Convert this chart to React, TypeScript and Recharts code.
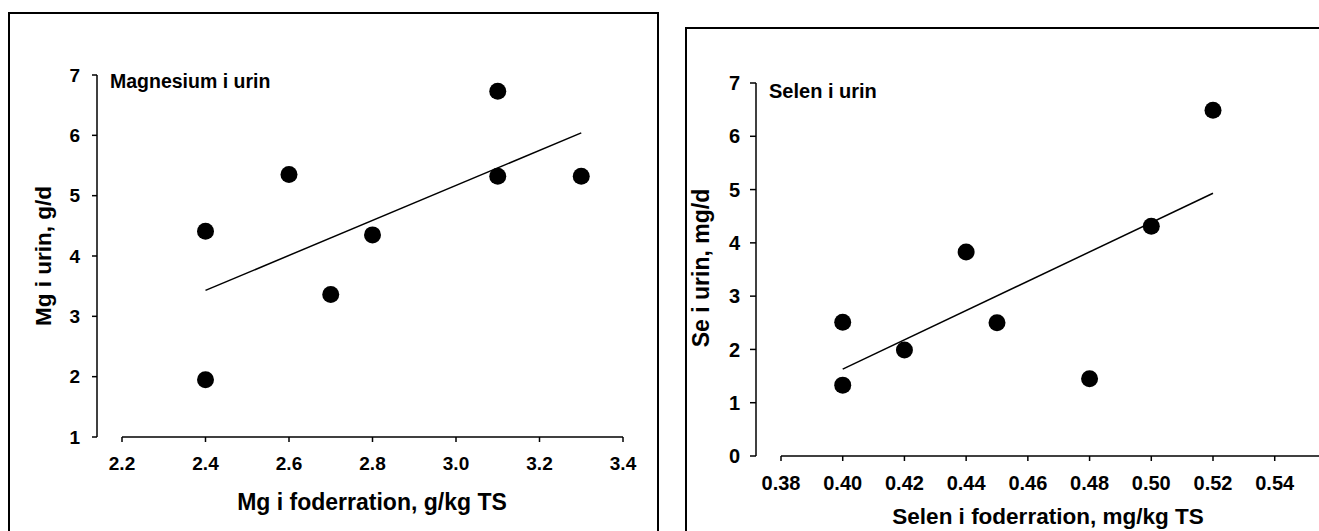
import React from 'react';
import { ScatterChart, Scatter, XAxis, YAxis, ReferenceLine } from 'recharts';

// ---------- Data: Magnesium ----------
const mgFeedX = [2.4, 2.4, 2.6, 2.7, 2.8, 3.1, 3.1, 3.3];
const mgUrineY = [4.41, 1.95, 5.35, 3.36, 4.35, 6.73, 5.32, 5.32];
const mgTrendX = [2.4, 3.3];
const mgTrendY = [3.43, 6.04];
const mgXTicks = [2.2, 2.4, 2.6, 2.8, 3.0, 3.2, 3.4];
const mgYTicks = [1, 2, 3, 4, 5, 6, 7];

// ---------- Data: Selen ----------
const seFeedX = [0.4, 0.4, 0.42, 0.44, 0.45, 0.48, 0.5, 0.52];
const seUrineY = [2.51, 1.33, 1.99, 3.83, 2.5, 1.45, 4.31, 6.49];
const seTrendX = [0.4, 0.52];
const seTrendY = [1.63, 4.93];
const seXTicks = [0.38, 0.4, 0.42, 0.44, 0.46, 0.48, 0.5, 0.52, 0.54];
const seYTicks = [0, 1, 2, 3, 4, 5, 6, 7];

const FONT = "'Liberation Sans', Arial, Helvetica, sans-serif";

const zip = (xs: number[], ys: number[]) => xs.map((x, i) => ({ x, y: ys[i] }));

const mgPoints = zip(mgFeedX, mgUrineY);
const mgTrend = zip(mgTrendX, mgTrendY);
const sePoints = zip(seFeedX, seUrineY);
const seTrend = zip(seTrendX, seTrendY);

const Dot = (p: any) => <circle cx={p.cx} cy={p.cy} r={8.5} fill="#000" />;
const NoShape = () => <g />;

const boldText = (size: number) => ({
  fontFamily: FONT,
  fontWeight: 'bold' as const,
  fontSize: size,
  fill: '#000',
});

function MgChart() {
  return (
    <ScatterChart width={670} height={531} margin={{ top: 75, right: 47, bottom: 0, left: 0 }}>
      <XAxis
        type="number"
        dataKey="x"
        domain={[2.2, 3.4]}
        ticks={mgXTicks}
        tickFormatter={(v: number) => v.toFixed(1)}
        padding={{ left: 25, right: 0 }}
        axisLine={false}
        tickLine={{ stroke: '#000', strokeWidth: 1.5 }}
        tickSize={5}
        tickMargin={15}
        height={94}
        tick={boldText(19)}
        label={{
          content: () => (
            <text x={372} y={510} textAnchor="middle" style={boldText(23)}>
              Mg i foderration, g/kg TS
            </text>
          ),
        }}
      />
      <YAxis
        type="number"
        dataKey="y"
        domain={[1, 7]}
        ticks={mgYTicks}
        width={97}
        axisLine={{ stroke: '#000', strokeWidth: 1.5 }}
        tickLine={{ stroke: '#000', strokeWidth: 1.5 }}
        tickSize={5}
        tickMargin={12}
        tick={boldText(19)}
        label={{
          content: () => (
            <g>
              <text
                x={51}
                y={256}
                textAnchor="middle"
                transform="rotate(-90 51 256)"
                style={boldText(22.5)}
              >
                Mg i urin, g/d
              </text>
              <text x={110} y={88} style={boldText(19.5)}>
                Magnesium i urin
              </text>
            </g>
          ),
        }}
      />
      <ReferenceLine
        segment={[
          { x: 2.2, y: 1 },
          { x: 3.4, y: 1 },
        ]}
        stroke="#000"
        strokeWidth={1.5}
        ifOverflow="visible"
      />
      <Scatter data={mgTrend} line={{ stroke: '#000', strokeWidth: 1.5 }} shape={NoShape} isAnimationActive={false} />
      <Scatter data={mgPoints} shape={Dot} isAnimationActive={false} />
    </ScatterChart>
  );
}

function SeChart() {
  return (
    <ScatterChart width={680} height={531} margin={{ top: 83, right: 29, bottom: 0, left: 0 }}>
      <XAxis
        type="number"
        dataKey="x"
        domain={[0.38, 0.555]}
        ticks={seXTicks}
        tickFormatter={(v: number) => v.toFixed(2)}
        padding={{ left: 25, right: 0 }}
        axisLine={false}
        tickLine={{ stroke: '#000', strokeWidth: 1.5 }}
        tickSize={5}
        tickMargin={15}
        height={75}
        tick={boldText(20)}
        label={{
          content: () => (
            <text x={378} y={524} textAnchor="middle" style={boldText(22.5)}>
              Selen i foderration, mg/kg TS
            </text>
          ),
        }}
      />
      <YAxis
        type="number"
        dataKey="y"
        domain={[0, 7]}
        ticks={seYTicks}
        width={86}
        axisLine={{ stroke: '#000', strokeWidth: 1.5 }}
        tickLine={{ stroke: '#000', strokeWidth: 1.5 }}
        tickSize={6}
        tickMargin={10}
        tick={boldText(20)}
        label={{
          content: () => (
            <g>
              <text
                x={39}
                y={268}
                textAnchor="middle"
                transform="rotate(-90 39 268)"
                style={boldText(23)}
              >
                Se i urin, mg/d
              </text>
              <text x={99} y={98} style={boldText(20)}>
                Selen i urin
              </text>
            </g>
          ),
        }}
      />
      <ReferenceLine
        segment={[
          { x: 0.38, y: 0 },
          { x: 0.555, y: 0 },
        ]}
        stroke="#000"
        strokeWidth={1.5}
        ifOverflow="visible"
      />
      <Scatter data={seTrend} line={{ stroke: '#000', strokeWidth: 1.5 }} shape={NoShape} isAnimationActive={false} />
      <Scatter data={sePoints} shape={Dot} isAnimationActive={false} />
    </ScatterChart>
  );
}

export default function App() {
  return (
    <div
      style={{
        position: 'fixed',
        left: 0,
        top: 0,
        width: 1319,
        height: 531,
        overflow: 'hidden',
        background: '#fff',
      }}
    >
      <div
        style={{
          position: 'absolute',
          left: 8,
          top: 12,
          width: 651,
          height: 600,
          border: '2px solid #000',
          boxSizing: 'border-box',
        }}
      />
      <div
        style={{
          position: 'absolute',
          left: 685,
          top: 27,
          width: 700,
          height: 600,
          border: '2px solid #000',
          boxSizing: 'border-box',
        }}
      />
      <div style={{ position: 'absolute', left: 0, top: 0 }}>
        <MgChart />
      </div>
      <div style={{ position: 'absolute', left: 670, top: 0 }}>
        <SeChart />
      </div>
    </div>
  );
}
